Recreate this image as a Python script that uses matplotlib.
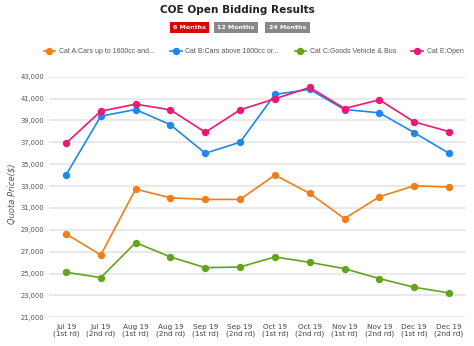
import matplotlib.pyplot as plt

rounds = ["Jul 19\n(1st rd)", "Jul 19\n(2nd rd)", "Aug 19\n(1st rd)", "Aug 19\n(2nd rd)",
          "Sep 19\n(1st rd)", "Sep 19\n(2nd rd)", "Oct 19\n(1st rd)", "Oct 19\n(2nd rd)",
          "Nov 19\n(1st rd)", "Nov 19\n(2nd rd)", "Dec 19\n(1st rd)", "Dec 19\n(2nd rd)"]
cat_a = [28630, 26700, 32720, 31930, 31780, 31780, 34010, 32330, 30030, 32020, 33030, 32910]
cat_b = [34010, 39390, 40000, 38600, 36000, 37010, 41380, 41840, 40000, 39700, 37890, 36000]
cat_c = [25120, 24630, 27830, 26520, 25540, 25600, 26520, 26030, 25450, 24540, 23750, 23230]
cat_e = [36910, 39850, 40490, 39970, 37920, 39970, 40980, 42020, 40090, 40890, 38870, 37980]

series_names = ["Cat A:Cars up to 1600cc and...", "Cat B:Cars above 1600cc or...",
                "Cat C:Goods Vehicle & Bus", "Cat E:Open"]
colors = ["#ef7f1a", "#1e88ef", "#62a41e", "#ec1873"]
yticks = list(range(21000, 43001, 2000))

fig = plt.figure(figsize=(4.74, 3.46), dpi=100)
ax = fig.add_axes([0.1025, 0.0829, 0.8814, 0.6954])

x = list(range(len(rounds)))
for vals, name, c in zip([cat_a, cat_b, cat_c, cat_e], series_names, colors):
    ax.plot(x, vals, color=c, lw=1.2, marker="o", ms=4.3, label=name, zorder=3)

ax.set_xlim(-0.5, len(rounds) - 0.5)
ax.set_ylim(21000, 43000)
ax.set_yticks(yticks)
ax.set_yticklabels([f"{v:,}" for v in yticks])
ax.set_xticks(x)
ax.set_xticklabels(rounds, fontsize=5.2, color="#444444", linespacing=1.1)
ax.tick_params(axis="y", labelsize=4.9, labelcolor="#555555", length=0, pad=3)
ax.tick_params(axis="x", length=0, pad=5)
ax.grid(axis="y", color="#e3e3e3", lw=1.1)
ax.set_axisbelow(True)
for s in ax.spines.values():
    s.set_visible(False)
# y label placed by hand so it isn't clipped
fig.text(0.026, 0.439, "Quota Price($)", rotation=90, ha="center", va="center",
         fontsize=6, style="italic", color="#555555")

fig.text(0.5, 0.972, "COE Open Bidding Results", ha="center", va="center",
         fontsize=7.6, fontweight="bold", color="#222222")
buttons = [("6 Months", 0.3998, "#e00000"), ("12 Months", 0.4979, "#888888"), ("24 Months", 0.6065, "#888888")]
for label, bx, bc in buttons:
    fig.text(bx, 0.9205, label, ha="center", va="center", fontsize=4.5, fontweight="bold",
             color="white", bbox=dict(boxstyle="square,pad=0.55", fc=bc, ec="none"))

fig.legend(loc="center", bbox_to_anchor=(0.535, 0.85), ncol=4, frameon=False,
           prop={"family": "Liberation Sans", "size": 5}, handlelength=1.7,
           handletextpad=0.5, columnspacing=2.2, labelcolor="#555555")

fig.savefig("out.png", dpi=100)
